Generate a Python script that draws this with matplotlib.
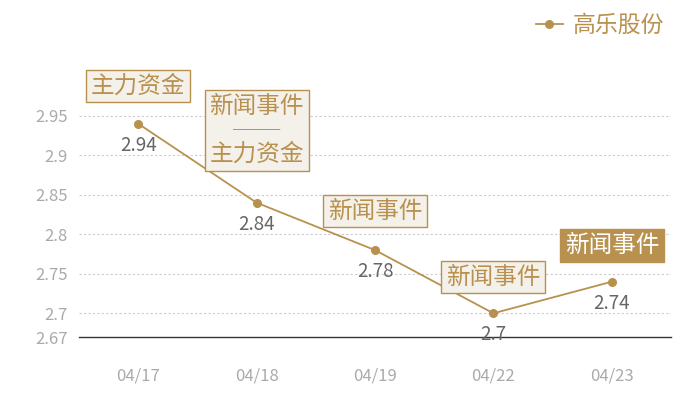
import matplotlib
matplotlib.use("Agg")
import matplotlib.pyplot as plt

plt.rcParams['font.family'] = ['Noto Sans CJK SC', 'DejaVu Sans']

dates = ['04/17', '04/18', '04/19', '04/22', '04/23']
prices = [2.94, 2.84, 2.78, 2.70, 2.74]
events = ['主力资金', '新闻事件\n──\n主力资金', '新闻事件', '新闻事件', '新闻事件']
yticks = [2.67, 2.7, 2.75, 2.8, 2.85, 2.9, 2.95]
series_name = '高乐股份'

gold = '#b8914f'
pale = '#f4f0ea'

fig = plt.figure(figsize=(7, 4), dpi=100)
ax = fig.add_axes([79 / 700, 1 - 337 / 400, 592 / 700, 237 / 400])

x = list(range(len(dates)))
ax.plot(x, prices, color=gold, lw=1.3, marker='o', ms=5.5, zorder=3, label=series_name)

ax.set_xlim(-0.5, len(dates) - 0.5)
ax.set_ylim(2.67, 2.97)
ax.set_yticks(yticks)
ax.set_yticklabels([f'{v:g}' for v in yticks])
ax.set_xticks(x)
ax.set_xticklabels(dates)
ax.tick_params(length=0, colors='#aaaaaa', labelsize=12)
ax.tick_params(axis='x', pad=22)
ax.tick_params(axis='y', pad=8)

for v in yticks[1:]:
    ax.axhline(v, color='#cccccc', lw=0.8, ls=(0, (2, 2)), zorder=1)

for s in ['top', 'right', 'left']:
    ax.spines[s].set_visible(False)
ax.spines['bottom'].set_color('#333333')
ax.spines['bottom'].set_linewidth(1.0)

# value labels under the points
for xi, v in zip(x, prices):
    ax.annotate(f'{v:g}', (xi, v), xytext=(0, -8), textcoords='offset points',
                ha='center', va='top', fontsize=13.5, color='#666666', zorder=4)

# event boxes above the points (offsets in points)
offsets = [27, 52, 28, 26, 26]
for i, (xi, v, ev) in enumerate(zip(x, prices, events)):
    last = i == len(dates) - 1
    ax.annotate(ev, (xi, v), xytext=(0, offsets[i]), textcoords='offset points',
                ha='center', va='center', fontsize=17, linespacing=1.05,
                color='white' if last else gold, zorder=5,
                bbox=dict(boxstyle='square,pad=0.2', fc=gold if last else pale,
                          ec=gold, lw=1.0))

leg = ax.legend(loc='upper right', bbox_to_anchor=(673 / 700, 1 - 5 / 400),
                bbox_transform=fig.transFigure, frameon=False, fontsize=16.5,
                handlelength=1.2, handletextpad=0.4, borderaxespad=0)
for t in leg.get_texts():
    t.set_color(gold)

fig.savefig('out.png', dpi=100)
